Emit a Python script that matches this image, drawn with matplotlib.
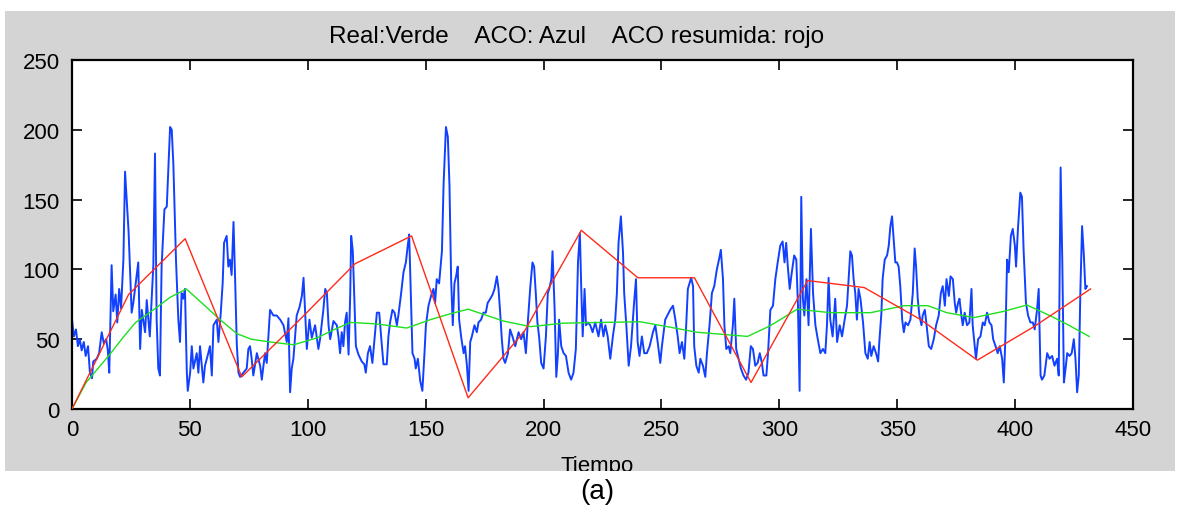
import matplotlib
matplotlib.use('Agg')
import matplotlib.pyplot as plt
from matplotlib.patches import Rectangle

plt.rcParams['font.family'] = ['Liberation Sans', 'DejaVu Sans']

# ---------------- data ----------------
title_text = "Real:Verde    ACO: Azul    ACO resumida: rojo"
x_label = "Tiempo"
caption = "(a)"
x_ticks = [0, 50, 100, 150, 200, 250, 300, 350, 400, 450]
y_ticks = [0, 50, 100, 150, 200, 250]

# ACO (blue) (time, value)
aco_points = [
    (0, 64), (0.8, 52), (1.7, 57), (2.5, 45), (3.3, 50), (4.1, 42), (5, 48), (5.8, 38), (6.8, 45), (7.6, 26),
    (8.5, 22), (9, 34), (10.5, 36), (11.5, 40), (12.6, 55), (13.5, 47), (14.5, 50), (15.2, 42), (15.8, 26),
    (16.8, 103), (17.5, 70), (18.5, 82), (19.2, 62), (20, 86), (20.8, 72), (21.8, 107), (22.5, 170),
    (23.2, 150), (24, 127), (25.3, 69), (26, 76), (27.4, 95), (28.1, 105), (28.9, 43), (29.6, 71), (31, 55),
    (31.7, 78), (33, 52), (33.8, 80), (34.5, 103), (35.2, 183), (35.9, 64), (36.6, 29), (37.3, 24), (38, 102),
    (39.2, 143), (40.2, 145), (40.9, 174), (41.6, 202), (42.3, 200), (43, 175), (44.1, 107), (45.1, 64),
    (45.8, 48), (46.5, 83), (47.2, 79), (47.9, 86), (48.7, 26), (49.1, 13), (50.1, 26), (50.8, 45), (51.5, 29),
    (52.9, 40), (53.6, 26), (54.3, 45), (55.7, 19), (56.4, 31), (57.8, 40), (58.5, 45), (59.3, 24), (60, 60),
    (61.4, 64), (62.1, 48), (63.1, 69), (63.9, 90), (64.5, 119), (65.6, 124), (66.3, 102), (67, 107),
    (67.7, 96), (68.5, 134), (69.2, 92), (69.9, 46), (70.6, 26), (71.3, 23), (72.7, 26), (74.1, 29),
    (74.8, 43), (75.5, 45), (76.2, 36), (76.9, 24), (78.4, 40), (79.8, 31), (80.5, 21), (81.2, 31), (81.9, 40),
    (82.6, 33), (84, 71), (85.4, 67), (86.8, 67), (88.3, 64), (89.7, 60), (91.1, 48), (91.8, 65), (92.5, 12),
    (93.2, 29), (93.9, 36), (95.3, 67), (96.5, 73), (97.5, 81), (98.2, 94), (98.9, 69), (99.6, 43),
    (100.7, 64), (101.7, 51), (103.1, 60), (104.5, 43), (105.2, 50), (106.6, 71), (107.4, 86), (108.1, 83),
    (108.8, 60), (109.5, 50), (110.9, 63), (112.3, 60),
    (113.0, 52), (113.7, 40), (114.4, 55), (115.1, 45), (115.8, 62), (116.5, 69), (117.3, 39), (118.0, 82),
    (118.4, 124), (119.1, 113), (119.8, 76), (120.4, 45), (121.5, 39), (122.9, 34), (124.0, 32), (124.6, 26),
    (125.5, 40), (126.4, 45), (127.4, 33), (128.3, 50), (129.3, 69), (130.3, 69), (131.1, 52), (132.1, 32),
    (133.5, 32), (134.2, 52), (134.9, 62), (135.9, 71), (136.8, 69), (137.8, 60), (138.5, 68), (139.6, 83),
    (140.6, 98), (141.6, 105), (142.4, 117), (143.0, 125), (143.6, 88), (144.4, 40), (145.3, 36), (145.8, 29),
    (146.7, 36), (147.7, 20), (148.6, 13), (149.5, 40), (150.1, 60), (151.2, 74), (152.6, 83), (153.3, 86),
    (154.0, 76), (154.7, 93), (155.7, 90), (156.9, 113), (157.6, 161), (158.6, 202), (159.4, 195),
    (160.1, 160), (160.8, 93), (161.5, 60), (162.2, 90), (162.9, 95), (163.6, 102), (164.2, 64), (165.1, 51),
    (166.1, 40), (166.7, 45), (167.5, 31), (168.2, 13), (168.9, 48), (169.6, 52), (170.7, 60), (171.7, 55),
    (172.4, 62), (173.5, 64), (174.5, 69), (175.5, 69), (176.3, 76), (177.4, 79), (178.4, 82), (179.2, 86),
    (180.2, 95), (180.9, 86), (181.6, 69), (182.3, 50), (183.0, 36), (183.7, 33), (184.9, 40), (185.8, 57),
    (186.8, 52), (188.0, 45), (188.7, 50), (189.4, 55), (190.5, 50), (191.5, 55), (192.5, 40), (193.4, 64),
    (194.4, 88), (195.3, 105), (196.0, 102), (196.7, 83), (197.4, 62), (198.1, 52), (199.0, 33), (200.0, 29),
    (201.0, 52), (201.8, 83), (202.4, 86), (203.3, 93), (203.8, 113), (204.7, 71), (205.4, 23), (206.1, 40),
    (206.6, 64), (207.5, 45), (208.5, 40), (209.5, 38), (210.6, 26), (211.7, 21), (212.7, 26), (213.7, 43),
    (214.6, 105), (215.4, 126), (216.0, 86), (216.6, 52), (217.4, 86), (218.0, 60), (218.8, 62), (219.8, 60),
    (220.8, 55), (221.9, 62), (223.3, 52), (224.4, 64), (225.4, 52),
    (226.2, 60), (227.2, 52), (228.3, 36), (229.4, 52), (230.4, 64), (231.1, 83), (231.8, 119), (232.8, 138),
    (233.7, 112), (234.2, 83), (235.1, 60), (236.1, 31), (237.1, 45), (238.3, 74), (239.2, 93), (239.9, 48),
    (240.7, 38), (241.7, 52), (242.7, 40), (243.8, 40), (245.0, 45), (246.4, 55), (247.4, 60), (248.4, 48),
    (249.5, 33), (250.2, 45), (251.6, 64), (252.8, 68), (253.7, 71), (254.9, 74), (255.9, 64), (256.9, 52),
    (257.7, 40), (258.7, 48), (259.7, 36), (260.5, 60), (261.2, 86), (261.9, 90), (262.6, 94), (263.4, 88),
    (263.9, 45), (264.8, 31), (265.8, 26), (266.5, 36), (267.6, 31), (268.6, 23), (269.3, 40), (270.4, 60),
    (271.4, 83), (272.4, 88), (273.5, 100), (274.4, 107), (275.2, 114), (276.1, 93), (276.7, 60), (277.5, 43),
    (278.5, 45), (279.2, 40), (280.3, 60), (280.9, 79), (281.7, 43), (282.7, 36), (283.7, 29), (284.8, 24),
    (285.9, 21), (286.9, 26), (287.9, 45), (288.8, 43), (289.8, 31), (290.8, 33), (291.7, 40), (292.6, 33),
    (293.3, 24), (294.5, 24), (295.2, 40), (296.2, 71), (297.3, 74), (298.3, 93), (299.3, 105), (300.4, 117),
    (301.4, 120), (302.2, 105), (302.9, 119), (303.6, 102), (304.4, 86), (305.3, 98), (306.3, 110),
    (307.2, 107), (307.9, 74), (308.6, 13), (309.3, 152), (310.0, 79), (310.6, 67), (311.5, 93), (312.4, 60),
    (313.4, 129), (314.3, 83), (315.3, 60), (316.3, 50), (317.4, 40), (318.5, 43), (319.5, 40), (320.2, 60),
    (320.9, 94), (321.6, 64), (322.6, 52), (323.7, 79), (324.5, 48), (325.6, 60), (326.6, 52), (327.7, 64),
    (328.7, 74), (329.4, 93), (330.1, 113), (330.8, 110), (331.5, 93), (332.2, 83), (332.9, 64), (333.6, 86),
    (334.4, 79), (335.5, 62), (336.5, 40), (337.5, 36), (338.3, 48),
    (339.0, 38), (340.0, 45), (341.0, 40), (341.9, 34), (342.4, 48), (343.3, 69), (343.8, 93), (344.7, 107),
    (345.7, 110), (346.4, 117), (347.1, 131), (347.8, 138), (348.5, 121), (349.2, 105), (349.9, 105),
    (350.6, 102), (351.3, 88), (352.1, 64), (352.8, 55), (353.5, 62), (354.6, 60), (355.6, 64), (356.6, 83),
    (357.4, 115), (358.0, 102), (358.7, 79), (359.4, 67), (360.3, 60), (360.8, 67), (361.7, 71), (362.2, 64),
    (363.4, 45), (364.4, 43), (365.5, 50), (366.5, 60), (367.6, 67), (368.5, 83), (369.3, 88), (370.2, 74),
    (370.9, 93), (371.9, 81), (372.6, 95), (373.6, 93), (374.4, 76), (375.0, 69), (375.8, 76), (376.4, 79),
    (377.2, 67), (377.8, 60), (378.6, 69), (379.6, 60), (380.6, 62), (381.5, 86), (382.0, 60), (382.9, 45),
    (383.4, 36), (384.3, 50), (385.3, 52), (386.3, 62), (387.1, 60), (388.1, 69), (389.1, 62), (390.0, 60),
    (390.7, 50), (391.7, 45), (392.6, 40), (393.5, 45), (394.5, 36), (395.2, 19), (395.9, 52), (396.6, 107),
    (397.3, 98), (398.2, 124), (399.0, 129), (399.9, 117), (400.4, 102), (401.2, 129), (402.2, 155),
    (402.9, 152), (403.6, 114), (404.6, 76), (405.5, 67), (406.5, 62), (407.5, 62), (408.3, 57), (409.3, 71),
    (410.0, 86), (410.8, 24), (411.4, 21), (412.4, 24), (413.6, 40), (414.6, 36), (415.7, 38), (416.7, 31),
    (417.8, 36), (418.5, 24), (419.3, 173), (420.0, 107), (420.7, 19), (421.4, 29), (422.1, 40), (423.1, 38),
    (424.0, 40), (424.9, 50), (425.6, 36), (426.3, 12), (427.0, 24), (427.7, 86), (428.4, 131), (429.1, 112),
    (429.8, 86), (430.5, 88),
]
aco_time = [p[0] for p in aco_points]
aco_value = [p[1] for p in aco_points]

# ACO resumida (red) - one value every 24 time steps
resumida_time = [0, 24, 48, 72, 96, 120, 144, 168, 192, 216, 240, 264, 288, 312, 336, 360, 384, 408, 432]
resumida_value = [0, 82, 122, 23, 63, 104, 124, 8, 56, 128, 94, 94, 19, 92, 87, 64, 35, 59, 86]

# Real (green)
real_time = [0, 6, 16, 22, 27, 34.5, 41.6, 48.5, 55.7, 62.8, 69.9, 76, 84, 94, 104, 110, 118, 129, 142,
             152, 160, 168, 183, 194.5, 208.5, 241, 254, 265, 286.5, 296, 307.6, 321.7, 338.7, 353, 363,
             371, 382.6, 395.3, 405, 415, 422, 431.4]
real_value = [0, 19, 39, 52, 62, 71, 80, 86, 75, 64, 54, 50, 48, 46, 51, 56, 62, 61, 58,
              64, 68, 71.5, 63, 59, 61.5, 62.5, 58.5, 55, 52, 59.5, 71.5, 69, 69, 74, 74,
              69, 65.5, 70, 74.5, 66.7, 60.7, 52]

# ---------------- figure ----------------
W, H = 1179, 510
fig = plt.figure(figsize=(W / 100, H / 100), dpi=100)
fig.patch.set_facecolor('white')

bg = Rectangle((5 / W, (H - 472) / H), 1170 / W, (472 - 12) / H, transform=fig.transFigure,
               facecolor='#d4d4d4', edgecolor='none', zorder=-10)
fig.patches.append(bg)

ax = fig.add_axes([72 / W, (H - 410) / H, 1061 / W, 349 / H])
ax.set_zorder(1)
ax.set_facecolor('white')

ax.plot(aco_time, aco_value, color='#1240ff', lw=1.4, zorder=2)
ax.plot(real_time, real_value, color='#1ee01e', lw=1.0, zorder=3)
ax.plot(resumida_time, resumida_value, color='#ff2a1a', lw=1.0, zorder=4)

ax.set_xlim(0, 450)
ax.set_ylim(0, 250)
ax.set_xticks(x_ticks)
ax.set_yticks(y_ticks)
ax.tick_params(direction='in', length=7, width=1.2, top=True, right=True, labelsize=16, colors='black')
ax.tick_params(axis='x', pad=7)
ax.tick_params(axis='y', pad=9)
for s in ax.spines.values():
    s.set_linewidth(1.6)
    s.set_color('black')

fig.text(577 / W, (H - 37) / H, title_text, ha='center', va='center', fontsize=17.5, zorder=2)

t = fig.text(597 / W, (H - 456) / H, x_label, ha='center', va='top', fontsize=16, zorder=2)
t.set_clip_path(bg)

fig.text(597 / W, (H - 492) / H, caption, ha='center', va='center', fontsize=20, zorder=2)

fig.savefig('out.png', dpi=100, facecolor='white')
